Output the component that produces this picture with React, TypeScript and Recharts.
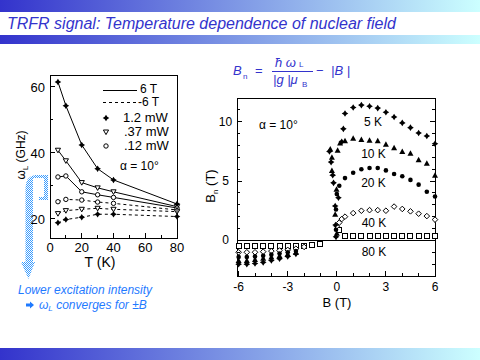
import React from "react";
import { LineChart, Line, XAxis, YAxis, ScatterChart, Scatter, ReferenceLine } from "recharts";

const FONT = "'Liberation Sans', Arial, sans-serif";
const INK = "#000";
const TITLE_BLUE = "#3333cc";
const NOTE_BLUE = "#1f7aff";

// left panel: Larmor frequency vs temperature (GHz)
const temps = [5, 10, 20, 30, 40, 80];
const hiPos = [61.5, 54.3, 42.4, 35.2, 31.8, 24.5];
const midPos = [40.8, 37.6, 31.0, 29.4, 28.2, 23.7];
const loPos = [32.7, 33.0, 28.2, 27.3, 26.5, 23.3];
const loNeg = [25.2, 25.9, 25.7, 25.1, 24.7, 22.7];
const midNeg = [21.6, 22.5, 22.9, 23.2, 22.9, 22.2];
const hiNeg = [18.8, 19.8, 20.5, 21.4, 21.4, 20.7];
const tempTicks = [0, 10, 20, 30, 40, 50, 60, 70, 80];
const omegaTicks = [20, 30, 40, 50, 60];

// right panel: nuclear field vs applied field (T)
const b5K = [-6, -5.5, -5, -4.5, -4, -3.5, -3, -2.5, -0.05, -0.08, -0.1, 0.1, -0.2, -0.25, -0.35, -0.45, 0.3, 0.4, 0.5, 1, 1.5, 2, 2.5, 3, 3.5, 4, 4.5, 5, 5.5, 6];
const bn5K = [-2.0, -2.0, -1.95, -1.85, -1.7, -1.55, -1.35, -1.15, 0.3, 1.3, 2.9, 3.6, 4.85, 5.5, 6.6, 7.5, 8.3, 9.4, 10.7, 11.2, 11.4, 11.3, 11.15, 10.8, 10.4, 9.9, 9.5, 9.05, 8.8, 8.15];
const b10K = [-6, -5.5, -5, -4.5, -4, -3.5, -3, -2.5, 0, -0.1, -0.02, -0.3, -0.3, -0.4, 0.05, 0.2, 0.5, 1, 1.5, 2, 2.5, 3, 3.5, 4, 4.5, 5, 5.5, 6];
const bn10K = [-1.7, -1.7, -1.6, -1.5, -1.4, -1.3, -1.15, -1.0, 0.6, 2.2, 4.3, 5.9, 7.0, 7.7, 7.6, 8.2, 8.4, 8.6, 8.5, 8.45, 8.4, 8.1, 7.8, 7.5, 7.35, 6.8, 6.5, 5.5];
const b20K = [-6, -5.5, -5, -4.5, -4, -3.5, -3, -2.5, -0.05, -0.05, 0, 0.15, 0.5, 1, 1.5, 2, 2.5, 3, 3.5, 4, 4.5, 5, 5.5, 6];
const bn20K = [-1.4, -1.4, -1.35, -1.3, -1.2, -1.1, -1.0, -0.9, 0.9, 2.6, 3.9, 4.6, 5.25, 5.7, 6.0, 6.1, 6.1, 5.9, 5.6, 5.4, 5.1, 4.7, 4.1, 3.7];
const b40K = [-6, -5.5, -5, -4.5, -4, -3.5, -3, -2.5, -2, 0, 0.15, 0.3, 0.5, 1, 1.5, 2, 2.5, 3, 3.5, 4, 4.5, 5, 5.5, 6];
const bn40K = [-1.0, -1.0, -1.0, -0.95, -0.9, -0.85, -0.8, -0.7, -0.55, 1.2, 1.5, 1.8, 2.0, 2.3, 2.5, 2.55, 2.55, 2.5, 2.85, 2.65, 2.45, 2.25, 2.05, 1.75];
const b80K = [-6, -5.5, -5, -4.5, -4, -3.5, -3, -2.5, -2, -1.5, -1, 0.15, 0.5, 1, 1.5, 2, 2.5, 3, 3.5, 4, 4.5, 5, 5.5, 6];
const bn80K = [-0.45, -0.45, -0.45, -0.45, -0.45, -0.45, -0.45, -0.45, -0.45, -0.4, -0.3, 0.9, 0.4, 0.4, 0.4, 0.4, 0.4, 0.4, 0.4, 0.4, 0.4, 0.4, 0.4, 0.4];
const bTicks = [-6, -5, -4, -3, -2, -1, 0, 1, 2, 3, 4, 5, 6];
const bnTicks = [-3, -2, -1, 0, 1, 2, 3, 4, 5, 6, 7, 8, 9, 10, 11, 12];

const tempRows = temps.map((t, i) => ({
  t,
  hiPos: hiPos[i],
  midPos: midPos[i],
  loPos: loPos[i],
  loNeg: loNeg[i],
  midNeg: midNeg[i],
  hiNeg: hiNeg[i],
}));

const pts = (b: number[], bn: number[]) => b.map((v, i) => ({ b: v, bn: bn[i] }));

// markers
const Star = ({ cx, cy }: any) => (
  <path
    d={`M${cx},${cy - 3.3}L${cx + 1.3},${cy - 1.3}L${cx + 3.3},${cy}L${cx + 1.3},${cy + 1.3}L${cx},${cy + 3.3}L${cx - 1.3},${cy + 1.3}L${cx - 3.3},${cy}L${cx - 1.3},${cy - 1.3}Z`}
    fill={INK}
  />
);
const DownTri = ({ cx, cy }: any) => (
  <polygon points={`${cx - 2.6},${cy - 2} ${cx + 2.6},${cy - 2} ${cx},${cy + 2.6}`} fill="#fff" stroke={INK} />
);
const Ring = ({ cx, cy }: any) => <circle cx={cx} cy={cy} r={2.2} fill="#fff" stroke={INK} />;
const UpTri = ({ cx, cy }: any) => (
  <polygon points={`${cx},${cy - 3} ${cx + 3},${cy + 2.5} ${cx - 3},${cy + 2.5}`} fill={INK} />
);
const Blob = ({ cx, cy }: any) => <circle cx={cx} cy={cy} r={2.3} fill={INK} />;
const Diamond = ({ cx, cy }: any) => (
  <polygon points={`${cx},${cy - 2.8} ${cx + 2.8},${cy} ${cx},${cy + 2.8} ${cx - 2.8},${cy}`} fill="#fff" stroke={INK} />
);
const Square = ({ cx, cy }: any) => (
  <rect x={cx - 2.5} y={cy - 2.5} width={5} height={5} fill="#fff" stroke={INK} shapeRendering="crispEdges" />
);

// ticks (axes have tickSize 0, so x/y sit on the axis line)
const tempTick = (p: any) => {
  const v = p.payload.value;
  const major = v % 20 === 0;
  return (
    <g>
      <line x1={p.x} y1={p.y} x2={p.x} y2={p.y - (major ? 5 : 3)} stroke={INK} shapeRendering="crispEdges" />
      {major && (
        <text x={p.x} y={p.y + 14} textAnchor="middle" fontSize={13} fontFamily={FONT} fill={INK}>
          {v}
        </text>
      )}
    </g>
  );
};
const omegaTick = (p: any) => {
  const v = p.payload.value;
  const major = v % 20 === 0;
  return (
    <g>
      <line x1={p.x} y1={p.y} x2={p.x + (major ? 5 : 3)} y2={p.y} stroke={INK} shapeRendering="crispEdges" />
      {major && (
        <text x={p.x - 5} y={p.y + 5} textAnchor="end" fontSize={13} fontFamily={FONT} fill={INK}>
          {v}
        </text>
      )}
    </g>
  );
};
const bTick = (p: any) => {
  const v = p.payload.value;
  const major = v % 3 === 0;
  return (
    <g>
      <line x1={p.x} y1={p.y} x2={p.x} y2={p.y - (major ? 5 : 3)} stroke={INK} shapeRendering="crispEdges" />
      {major && (
        <text x={p.x} y={p.y + 15} textAnchor="middle" fontSize={12} fontFamily={FONT} fill={INK}>
          {v}
        </text>
      )}
    </g>
  );
};
const RIGHT_W = 198;
const bnTick = (p: any) => {
  const v = p.payload.value;
  const len = v % 5 === 0 ? 5 : 3;
  return (
    <g>
      <line x1={p.x} y1={p.y} x2={p.x + len} y2={p.y} stroke={INK} shapeRendering="crispEdges" />
      <line x1={p.x + RIGHT_W} y1={p.y} x2={p.x + RIGHT_W - len} y2={p.y} stroke={INK} shapeRendering="crispEdges" />
      {v % 5 === 0 && (
        <text x={p.x - 11.5} y={p.y + 4} textAnchor="middle" fontSize={12} fontFamily={FONT} fill={INK}>
          {v}
        </text>
      )}
    </g>
  );
};

const t12 = { fontFamily: FONT, fontSize: 12, fill: INK };
const t13 = { fontFamily: FONT, fontSize: 13, fill: INK };

function Slide() {
  return (
    <svg width={480} height={360} style={{ position: "absolute", left: 0, top: 0 }}>
      <defs>
        <linearGradient id="band" x1="0" x2="1" y1="0" y2="0">
          <stop offset="0" stopColor="#3333cc" />
          <stop offset="1" stopColor="#ccffff" />
        </linearGradient>
        <pattern id="dither" width={2} height={2} patternUnits="userSpaceOnUse">
          <rect x={0} y={0} width={1} height={1} fill="#3a9cff" />
          <rect x={1} y={1} width={1} height={1} fill="#3a9cff" />
        </pattern>
      </defs>
      <rect x={0} y={0} width={480} height={12} fill="url(#band)" />
      <rect x={0} y={35} width={480} height={9} fill="url(#band)" />
      <rect x={0} y={348} width={480} height={12} fill="url(#band)" />
      <text x={7} y={29} fontFamily={FONT} fontSize={16} fontStyle="italic" fill={TITLE_BLUE}>
        TRFR signal: Temperature dependence of nuclear field
      </text>

      {/* equation */}
      <g fontFamily={FONT} fill={TITLE_BLUE}>
        <text x={233} y={75} fontSize={13} fontStyle="italic">B</text>
        <text x={243} y={79} fontSize={8}>n</text>
        <text x={255} y={75} fontSize={13}>=</text>
        <text x={275} y={67} fontSize={13} fontStyle="italic">ħ ω</text>
        <text x={299} y={67} fontSize={8}>L</text>
        <line x1={272} y1={71.5} x2={313} y2={71.5} stroke={TITLE_BLUE} />
        <text x={273} y={84} fontSize={13} fontStyle="italic">|g |μ</text>
        <text x={302} y={87} fontSize={8}>B</text>
        <text x={316} y={75} fontSize={13}>−</text>
        <text x={331} y={75} fontSize={13} fontStyle="italic">|B |</text>
      </g>

      {/* frames */}
      <rect x={50.5} y={75.5} width={127} height={163} fill="none" stroke={INK} shapeRendering="crispEdges" />
      <rect x={237.5} y={98.5} width={RIGHT_W} height={178} fill="none" stroke={INK} shapeRendering="crispEdges" />

      {/* left panel labels and legend */}
      <text x={100} y={267} textAnchor="middle" fontFamily={FONT} fontSize={14} fill={INK}>T (K)</text>
      <text transform="rotate(-90 25 155)" x={25} y={155} textAnchor="middle" {...t12}>
        ω<tspan fontSize={8} dy={3}>L</tspan>
        <tspan dy={-3}> (GHz)</tspan>
      </text>
      <line x1={103} y1={90.5} x2={137} y2={90.5} stroke={INK} />
      <line x1={103} y1={102.5} x2={137} y2={102.5} stroke={INK} strokeDasharray="3 3" />
      <text x={140} y={93} {...t12}>6 T</text>
      <text x={138} y={106} {...t12}>-6 T</text>
      <Star cx={106} cy={118} />
      <DownTri cx={106} cy={132} />
      <Ring cx={106} cy={146} />
      <text x={123} y={122} {...t13}>1.2 mW</text>
      <text x={124} y={136} {...t13}>.37 mW</text>
      <text x={124} y={150} {...t13}>.12 mW</text>
      <text x={120} y={170} {...t12}>α = 10°</text>

      {/* right panel labels */}
      <text x={337} y={307} textAnchor="middle" {...t13}>B (T)</text>
      <text transform="rotate(-90 215 186)" x={215} y={186} textAnchor="middle" {...t13}>
        B<tspan fontSize={8} dy={3}>n</tspan>
        <tspan dy={-3}> (T)</tspan>
      </text>
      <text x={259} y={129} {...t12}>α = 10°</text>
      <text x={373} y={126} textAnchor="middle" {...t12}>5 K</text>
      <text x={373.5} y={158} textAnchor="middle" {...t12}>10 K</text>
      <text x={373.5} y={187} textAnchor="middle" {...t12}>20 K</text>
      <text x={374} y={227} textAnchor="middle" {...t12}>40 K</text>
      <text x={374} y={256} textAnchor="middle" {...t12}>80 K</text>

      {/* blue arrow and note */}
      <path
        d="M48 175 L35 175 Q26 176 25.5 188 L25.5 262 L21 262 L28.5 279 L35 262 L33 262 L33 200 L48 200 Z M33 178 L44 178 L44 197 L39 197 L39 200 L33 200 Z"
        fill="url(#dither)"
        fillRule="evenodd"
      />
      <text x={18} y={294} fontFamily={FONT} fontSize={12} fontStyle="italic" fill={NOTE_BLUE}>
        Lower excitation intensity
      </text>
      <polygon points="26,303.5 30,303.5 30,301.5 34,305 30,308.5 30,306.5 26,306.5" fill={NOTE_BLUE} />
      <text x={39} y={309} fontFamily={FONT} fontSize={12} fontStyle="italic" fill={NOTE_BLUE}>
        ω<tspan fontSize={8} dy={2}>L</tspan>
        <tspan dy={-2}> converges for ±B</tspan>
      </text>
    </svg>
  );
}

function LarmorChart() {
  return (
    <div style={{ position: "absolute", left: 0, top: 0 }}>
      <LineChart width={480} height={360} data={tempRows} margin={{ top: 75, right: 303, bottom: 121, left: 49 }}>
        <XAxis
          dataKey="t"
          type="number"
          domain={[0, 80]}
          ticks={tempTicks}
          interval={0}
          height={1}
          tickSize={0}
          tickMargin={0}
          tickLine={false}
          axisLine={false}
          tick={tempTick}
        />
        <YAxis
          type="number"
          domain={[14.2, 63.6]}
          ticks={omegaTicks}
          interval={0}
          width={1}
          tickSize={0}
          tickMargin={0}
          tickLine={false}
          axisLine={false}
          tick={omegaTick}
        />
        <Line dataKey="hiNeg" type="linear" stroke={INK} strokeDasharray="3 3" dot={(p: any) => <Star key={p.index} cx={p.cx} cy={p.cy} />} activeDot={false} isAnimationActive={false} />
        <Line dataKey="midNeg" type="linear" stroke={INK} strokeDasharray="3 3" dot={(p: any) => <DownTri key={p.index} cx={p.cx} cy={p.cy} />} activeDot={false} isAnimationActive={false} />
        <Line dataKey="loNeg" type="linear" stroke={INK} strokeDasharray="3 3" dot={(p: any) => <Ring key={p.index} cx={p.cx} cy={p.cy} />} activeDot={false} isAnimationActive={false} />
        <Line dataKey="loPos" type="linear" stroke={INK} dot={(p: any) => <Ring key={p.index} cx={p.cx} cy={p.cy} />} activeDot={false} isAnimationActive={false} />
        <Line dataKey="midPos" type="linear" stroke={INK} dot={(p: any) => <DownTri key={p.index} cx={p.cx} cy={p.cy} />} activeDot={false} isAnimationActive={false} />
        <Line dataKey="hiPos" type="linear" stroke={INK} dot={(p: any) => <Star key={p.index} cx={p.cx} cy={p.cy} />} activeDot={false} isAnimationActive={false} />
      </LineChart>
    </div>
  );
}

function NuclearFieldChart() {
  return (
    <div style={{ position: "absolute", left: 0, top: 0 }}>
      <ScatterChart width={480} height={360} margin={{ top: 98, right: 45, bottom: 83, left: 236 }}>
        <XAxis
          dataKey="b"
          type="number"
          domain={[-6.1, 6]}
          ticks={bTicks}
          interval={0}
          height={1}
          tickSize={0}
          tickMargin={0}
          tickLine={false}
          axisLine={false}
          tick={bTick}
        />
        <YAxis
          dataKey="bn"
          type="number"
          domain={[-3, 12]}
          ticks={bnTicks}
          interval={0}
          width={1}
          tickSize={0}
          tickMargin={0}
          tickLine={false}
          axisLine={false}
          tick={bnTick}
        />
        <ReferenceLine y={0} stroke={INK} shapeRendering="crispEdges" />
        <Scatter data={pts(b80K, bn80K)} shape={(p: any) => <Square cx={p.cx} cy={p.cy} />} isAnimationActive={false} />
        <Scatter data={pts(b40K, bn40K)} shape={(p: any) => <Diamond cx={p.cx} cy={p.cy} />} isAnimationActive={false} />
        <Scatter data={pts(b20K, bn20K)} shape={(p: any) => <Blob cx={p.cx} cy={p.cy} />} isAnimationActive={false} />
        <Scatter data={pts(b10K, bn10K)} shape={(p: any) => <UpTri cx={p.cx} cy={p.cy} />} isAnimationActive={false} />
        <Scatter data={pts(b5K, bn5K)} shape={(p: any) => <Star cx={p.cx} cy={p.cy} />} isAnimationActive={false} />
      </ScatterChart>
    </div>
  );
}

export default function App() {
  return (
    <div style={{ position: "absolute", left: 0, top: 0, width: 480, height: 360, overflow: "hidden", background: "#fff" }}>
      <Slide />
      <LarmorChart />
      <NuclearFieldChart />
    </div>
  );
}
